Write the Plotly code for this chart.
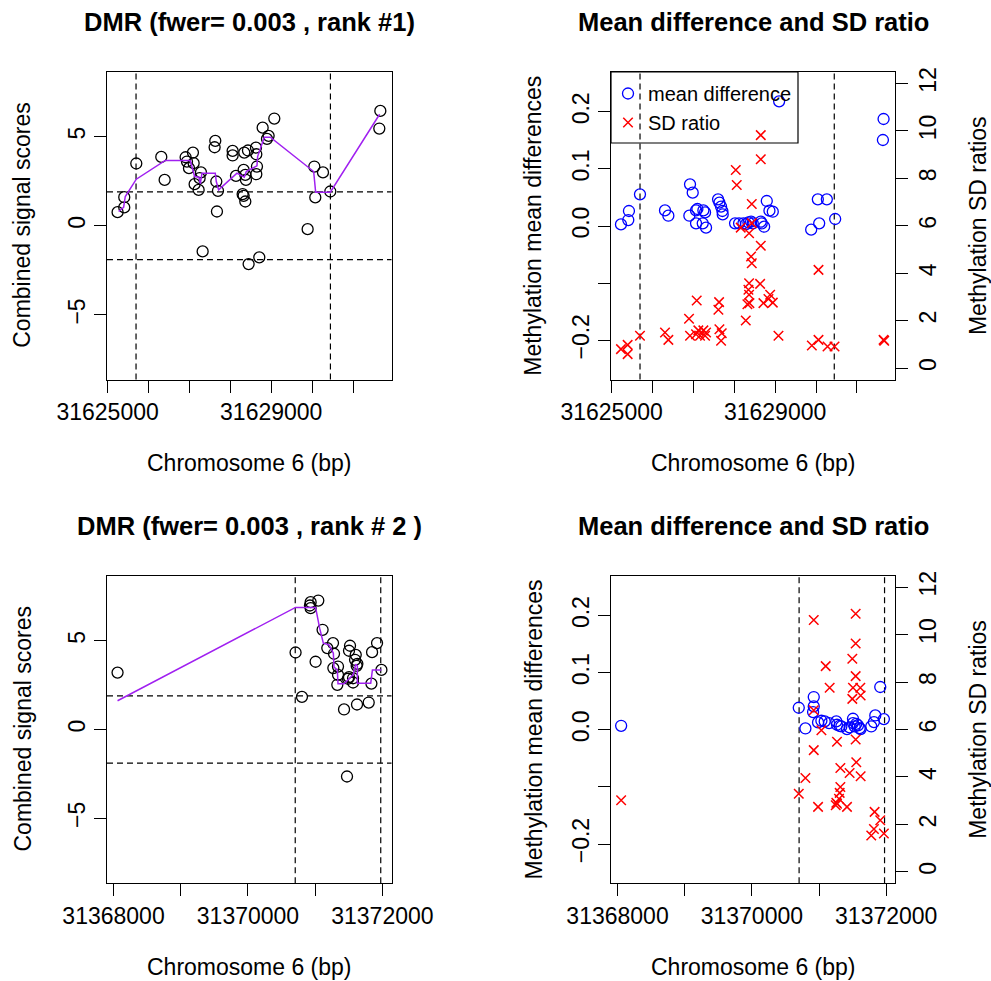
import plotly.graph_objects as go

W, H = 991, 981
FONT = "Liberation Sans, Arial, Helvetica, sans-serif"

# ---------------- DMR rank 1 (chr6: 31.625-31.632 Mb) ----------------
dmr1_pos = [31625244, 31625407, 31625407, 31625701, 31626312, 31626394, 31626907, 31626940,
            31626989, 31627086, 31627103, 31627127, 31627225, 31627249, 31627282, 31627323,
            31627616, 31627632, 31627657, 31627673, 31627698, 31628056, 31628056, 31628138,
            31628301, 31628325, 31628325, 31628341, 31628366, 31628366, 31628382, 31628431,
            31628447, 31628627, 31628635, 31628635, 31628651, 31628708, 31628790, 31628896,
            31628936, 31629075, 31629890, 31630053, 31630077, 31630265, 31630444, 31631642,
            31631667]
dmr1_score = [0.76, 1.03, 1.60, 3.49, 3.86, 2.57, 3.84, 3.60,
              3.23, 4.10, 3.51, 2.33, 2.01, 2.67, 2.99, -1.44,
              4.40, 4.76, 2.48, 0.80, 1.96, 4.20, 3.94, 2.80,
              1.77, 3.13, 1.68, 4.10, 2.85, 1.36, 2.57, 4.22,
              -2.15, 4.38, 4.01, 2.89, 3.32, -1.77, 5.50, 4.87,
              5.04, 6.01, -0.19, 3.32, 1.59, 2.99, 1.92, 5.45,
              6.44]
dmr1_smooth_pos = [31625269, 31625391, 31625432, 31625701, 31626410, 31627021, 31627127, 31627233,
                   31627266, 31627306, 31627632, 31627657, 31627714, 31628162, 31628341, 31628390,
                   31628651, 31628667, 31628830, 31628977, 31630037, 31630086, 31630444, 31631650]
dmr1_smooth = [0.80, 1.03, 1.64, 2.61, 3.66, 3.66, 2.76, 2.72,
               2.35, 2.95, 2.95, 2.48, 2.01, 2.95, 2.72, 3.04,
               3.36, 3.88, 4.96, 4.96, 3.04, 1.88, 1.88, 6.25]
dmr1_md_pos = [31625229, 31625408, 31625424, 31625694, 31626306, 31626388, 31626902, 31626918,
               31626984, 31627065, 31627065, 31627098, 31627229, 31627245, 31627286, 31627310,
               31627604, 31627637, 31627678, 31627710, 31627718, 31628020, 31628118, 31628224,
               31628290, 31628347, 31628412, 31628453, 31628649, 31628673, 31628731, 31628796,
               31628861, 31628943, 31629098, 31629882, 31630045, 31630078, 31630265, 31630469,
               31631637, 31631653]
dmr1_md = [0.0029, 0.0105, 0.0263, 0.0555, 0.0274, 0.0181, 0.0181, 0.0730,
           0.0584, 0.0274, 0.0047, 0.0298, 0.0047, 0.0274, 0.0239, -0.0029,
           0.0467, 0.0409, 0.0339, 0.0263, 0.0204, 0.0047, 0.0047, 0.0047,
           0.0035, 0.0064, 0.0076, 0.0047, 0.0076, 0.0047, -0.0012, 0.0438,
           0.0269, 0.0251, 0.2183, -0.0064, 0.0467, 0.0047, 0.0467, 0.0123,
           0.1506, 0.1874]
dmr1_sd_pos = [31625229, 31625392, 31625392, 31625694, 31626306, 31626388, 31626894, 31626918,
               31627065, 31627082, 31627122, 31627163, 31627245, 31627286, 31627310, 31627612,
               31627629, 31627637, 31627678, 31627694, 31628037, 31628061, 31628159, 31628282,
               31628322, 31628347, 31628363, 31628363, 31628363, 31628371, 31628412, 31628429,
               31628429, 31628429, 31628633, 31628649, 31628649, 31628649, 31628714, 31628837,
               31628878, 31628943, 31629082, 31629898, 31630061, 31630061, 31630282, 31630453,
               31631653, 31631669]
dmr1_sd = [0.80, 0.98, 0.59, 1.36, 1.50, 1.19, 2.08, 1.36,
           1.43, 2.85, 1.59, 1.36, 1.59, 1.36, 1.50, 2.46,
           2.78, 1.64, 1.15, 1.47, 8.35, 7.72, 5.92, 2.01,
           2.69, 3.30, 5.68, 3.58, 3.09, 2.74, 4.70, 6.92,
           6.11, 4.42, 3.55, 9.82, 8.80, 5.16, 2.74, 2.91,
           3.09, 2.76, 1.36, 0.95, 4.14, 1.19, 0.91, 0.91,
           1.19, 1.15]
dmr1_bounds = [31625695, 31630447]

# ---------------- DMR rank 2 (chr6: 31.368-31.372 Mb) ----------------
dmr2_pos = [31368060, 31370708, 31370803, 31370922, 31370932, 31370932, 31371006, 31371046,
            31371110, 31371180, 31371265, 31371270, 31371280, 31371329, 31371339, 31371339,
            31371429, 31371473, 31371488, 31371503, 31371503, 31371518, 31371563, 31371563,
            31371593, 31371603, 31371617, 31371622, 31371627, 31371796, 31371836, 31371846,
            31371920, 31371985]
dmr2_score = [3.21, 4.34, 1.84, 6.99, 7.18, 6.84, 3.82, 7.27,
              5.62, 4.59, 4.87, 3.46, 4.27, 2.52, 3.55, 3.08,
              1.13, -2.65, 2.86, 4.44, 2.95, 4.72, 2.89, 2.65,
              3.93, 4.21, 3.59, 1.41, 3.70, 1.52, 2.59, 4.36,
              4.87, 3.36]
dmr2_smooth_pos = [31368060, 31370708, 31371006, 31371066, 31371121, 31371205, 31371270, 31371280,
                   31371329, 31371339, 31371429, 31371503, 31371563, 31371603, 31371627, 31371627,
                   31371826, 31371851, 31371985]
dmr2_smooth = [1.62, 6.88, 6.88, 5.71, 4.87, 4.77, 4.30, 3.52,
               3.36, 2.58, 2.58, 2.86, 3.08, 3.68, 3.59, 2.61,
               2.61, 3.36, 3.36]
dmr2_md_pos = [31368054, 31370698, 31370797, 31370911, 31370921, 31370921, 31370985, 31371035,
               31371084, 31371149, 31371257, 31371267, 31371307, 31371332, 31371416, 31371455,
               31371505, 31371505, 31371530, 31371554, 31371579, 31371604, 31371619, 31371777,
               31371817, 31371837, 31371911, 31371965]
dmr2_md = [0.0070, 0.0386, 0.0023, 0.0310, 0.0573, 0.0409, 0.0129, 0.0158,
           0.0146, 0.0117, 0.0146, 0.0088, 0.0070, 0.0058, 0.0012, 0.0041,
           0.0193, 0.0117, 0.0058, 0.0105, 0.0076, 0.0029, 0.0012, 0.0058,
           0.0135, 0.0251, 0.0749, 0.0187]
dmr2_sd_pos = [31368054, 31370698, 31370797, 31370921, 31370921, 31370921, 31370985, 31371035,
               31371099, 31371158, 31371248, 31371257, 31371267, 31371267, 31371297, 31371307,
               31371317, 31371317, 31371416, 31371455, 31371495, 31371495, 31371505, 31371545,
               31371545, 31371545, 31371545, 31371554, 31371614, 31371619, 31371619, 31371777,
               31371817, 31371827, 31371911, 31371965]
dmr2_sd = [3.02, 3.29, 3.96, 10.61, 6.81, 5.13, 2.74, 5.97,
           8.67, 7.76, 2.81, 2.91, 5.48, 2.87, 3.08, 3.33,
           4.38, 3.58, 2.74, 4.17, 8.98, 7.29, 7.76, 10.88,
           9.62, 8.25, 5.58, 4.62, 7.76, 7.43, 4.03, 1.53,
           1.81, 2.53, 2.18, 1.62]
dmr2_bounds = [31370703, 31371975]

score_cutoff = 1.9

# ---------------- tick labels ----------------
x_ticks_1 = [31625000, 31626000, 31627000, 31628000, 31629000, 31630000, 31631000]
x_ticktext_1 = ["31625000", "", "", "", "31629000", "", ""]
x_ticks_2 = [31368000, 31369000, 31370000, 31371000, 31372000]
x_ticktext_2 = ["31368000", "", "31370000", "", "31372000"]
score_ticks = [-5, 0, 5]
score_ticktext = ["\u22125", "0", "5"]
md_ticks = [-0.2, -0.1, 0.0, 0.1, 0.2]
md_ticktext = ["\u22120.2", "", "0.0", "0.1", "0.2"]
sd_ticks = [0, 2, 4, 6, 8, 10, 12]
sd_ticktext = ["0", "2", "4", "6", "8", "10", "12"]

titles = ["DMR (fwer= 0.003 , rank #1)", "Mean difference and SD ratio",
          "DMR (fwer= 0.003 , rank # 2 )", "Mean difference and SD ratio"]

PURPLE = "#A020F0"
BLUE = "#0000FF"
RED = "#FF0000"

# panel boxes in pixels: (left, right, top, bottom)
boxes = {
    "tl": (107.0, 391.5, 72.0, 379.5),
    "tr": (611.0, 895.3, 72.0, 379.5),
    "bl": (107.0, 391.5, 575.7, 883.3),
    "br": (611.0, 895.3, 575.7, 883.3),
}
# legend frame in pixels: (left, right, top, bottom)
legend_frame = (611.0, 798.0, 72.0, 143.0)


def px(xp):
    return xp / W


def py(yp):
    return 1 - yp / H


def xdom(b):
    return [px(b[0]), px(b[1])]


def ydom(b):
    return [py(b[3]), py(b[2])]


fig = go.Figure()

circle = dict(symbol="circle-open", size=11, line=dict(width=1.3))
cross = dict(symbol="x-thin-open", size=9.5, line=dict(width=1.5))

# scores panels
fig.add_trace(go.Scatter(x=dmr1_pos, y=dmr1_score, mode="markers", xaxis="x", yaxis="y",
                         marker=dict(color="black", **circle), showlegend=False))
fig.add_trace(go.Scatter(x=dmr1_smooth_pos, y=dmr1_smooth, mode="lines", xaxis="x", yaxis="y",
                         line=dict(color=PURPLE, width=1.5), showlegend=False))
fig.add_trace(go.Scatter(x=dmr2_pos, y=dmr2_score, mode="markers", xaxis="x3", yaxis="y4",
                         marker=dict(color="black", **circle), showlegend=False))
fig.add_trace(go.Scatter(x=dmr2_smooth_pos, y=dmr2_smooth, mode="lines", xaxis="x3", yaxis="y4",
                         line=dict(color=PURPLE, width=1.5), showlegend=False))

# mean difference / SD ratio panels
fig.add_trace(go.Scatter(x=dmr1_md_pos, y=dmr1_md, mode="markers", xaxis="x2", yaxis="y2",
                         name="mean difference", marker=dict(color=BLUE, **circle)))
fig.add_trace(go.Scatter(x=dmr1_sd_pos, y=dmr1_sd, mode="markers", xaxis="x2", yaxis="y3",
                         name="SD ratio", marker=dict(color=RED, **cross)))
fig.add_trace(go.Scatter(x=dmr2_md_pos, y=dmr2_md, mode="markers", xaxis="x4", yaxis="y5",
                         marker=dict(color=BLUE, **circle), showlegend=False))
fig.add_trace(go.Scatter(x=dmr2_sd_pos, y=dmr2_sd, mode="markers", xaxis="x4", yaxis="y6",
                         marker=dict(color=RED, **cross), showlegend=False))

tickfont = dict(family=FONT, size=23, color="black")
base = dict(showline=True, linecolor="black", linewidth=1, mirror=True, ticks="outside",
            ticklen=12, tickwidth=1, tickcolor="black", showgrid=False, zeroline=False,
            tickfont=tickfont, tickmode="array", automargin=False)

xr1 = [31624985, 31631940]
xr2 = [31367903, 31372135]

fig.update_layout(
    template="none",
    width=W, height=H, margin=dict(l=0, r=0, t=0, b=0, pad=0, autoexpand=False),
    paper_bgcolor="white", plot_bgcolor="white",
    xaxis=dict(base, domain=xdom(boxes["tl"]), range=xr1, anchor="y",
               tickvals=x_ticks_1, ticktext=x_ticktext_1),
    yaxis=dict(base, domain=ydom(boxes["tl"]), range=[-8.62, 8.62], anchor="x",
               tickvals=score_ticks, ticktext=score_ticktext, tickangle=-90),
    xaxis2=dict(base, domain=xdom(boxes["tr"]), range=xr1, anchor="y2",
                tickvals=x_ticks_1, ticktext=x_ticktext_1),
    yaxis2=dict(base, domain=ydom(boxes["tr"]), range=[-0.2687, 0.2697], anchor="x2",
                tickvals=md_ticks, ticktext=md_ticktext, tickangle=-90),
    yaxis3=dict(base, mirror=False, overlaying="y2", side="right", anchor="x2",
                range=[-0.48, 12.48], tickvals=sd_ticks, ticktext=sd_ticktext, tickangle=-90),
    xaxis3=dict(base, domain=xdom(boxes["bl"]), range=xr2, anchor="y4",
                tickvals=x_ticks_2, ticktext=x_ticktext_2),
    yaxis4=dict(base, domain=ydom(boxes["bl"]), range=[-8.67, 8.67], anchor="x3",
                tickvals=score_ticks, ticktext=score_ticktext, tickangle=-90),
    xaxis4=dict(base, domain=xdom(boxes["br"]), range=xr2, anchor="y5",
                tickvals=x_ticks_2, ticktext=x_ticktext_2),
    yaxis5=dict(base, domain=ydom(boxes["br"]), range=[-0.2687, 0.2697], anchor="x4",
                tickvals=md_ticks, ticktext=md_ticktext, tickangle=-90),
    yaxis6=dict(base, mirror=False, overlaying="y5", side="right", anchor="x4",
                range=[-0.48, 12.48], tickvals=sd_ticks, ticktext=sd_ticktext, tickangle=-90),
    legend=dict(x=px(608), y=py(74), xanchor="left", yanchor="top",
                borderwidth=0, bgcolor="rgba(0,0,0,0)",
                font=dict(family=FONT, size=20, color="black"), tracegroupgap=0),
)

dash = dict(color="black", width=1.2, dash="6px,4px")
shapes = []
for xa, ya, bounds in [("x", "y", dmr1_bounds), ("x2", "y2", dmr1_bounds),
                       ("x3", "y4", dmr2_bounds), ("x4", "y5", dmr2_bounds)]:
    for b in bounds:
        shapes.append(dict(type="line", xref=xa, yref=ya + " domain", x0=b, x1=b, y0=0, y1=1,
                           line=dash, layer="below"))
for xa, ya in [("x", "y"), ("x3", "y4")]:
    for c in (score_cutoff, -score_cutoff):
        shapes.append(dict(type="line", xref=xa + " domain", yref=ya, x0=0, x1=1, y0=c, y1=c,
                           line=dash, layer="below"))
# frame around the legend
shapes.append(dict(type="rect", xref="paper", yref="paper",
                   x0=px(legend_frame[0]), x1=px(legend_frame[1]),
                   y0=py(legend_frame[3]), y1=py(legend_frame[2]),
                   line=dict(color="black", width=1.2), fillcolor="rgba(0,0,0,0)", layer="above"))
fig.update_layout(shapes=shapes)

ann = []
titlefont = dict(family=FONT, size=25.5, color="black")
labfont = dict(family=FONT, size=23, color="black")
for key, t in zip(["tl", "tr", "bl", "br"], titles):
    l, r, top, bot = boxes[key]
    cx = (l + r) / 2
    ann.append(dict(text="<b>%s</b>" % t, x=px(cx), y=py(top - 49.5), xref="paper", yref="paper",
                    xanchor="center", yanchor="middle", showarrow=False, font=titlefont))
    ann.append(dict(text="Chromosome 6 (bp)", x=px(cx), y=py(bot + 83.5), xref="paper",
                    yref="paper", xanchor="center", yanchor="middle", showarrow=False,
                    font=labfont))
    cy = (top + bot) / 2
    if key in ("tl", "bl"):
        ann.append(dict(text="Combined signal scores", x=px(l - 85), y=py(cy), xref="paper",
                        yref="paper", xanchor="center", yanchor="middle", textangle=-90,
                        showarrow=False, font=labfont))
    else:
        ann.append(dict(text="Methylation mean differences", x=px(l - 78), y=py(cy),
                        xref="paper", yref="paper", xanchor="center", yanchor="middle",
                        textangle=-90, showarrow=False, font=labfont))
        ann.append(dict(text="Methylation SD ratios", x=px(r + 82), y=py(cy), xref="paper",
                        yref="paper", xanchor="center", yanchor="middle", textangle=-90,
                        showarrow=False, font=labfont))
fig.update_layout(annotations=ann)

fig.write_html("out.html")
